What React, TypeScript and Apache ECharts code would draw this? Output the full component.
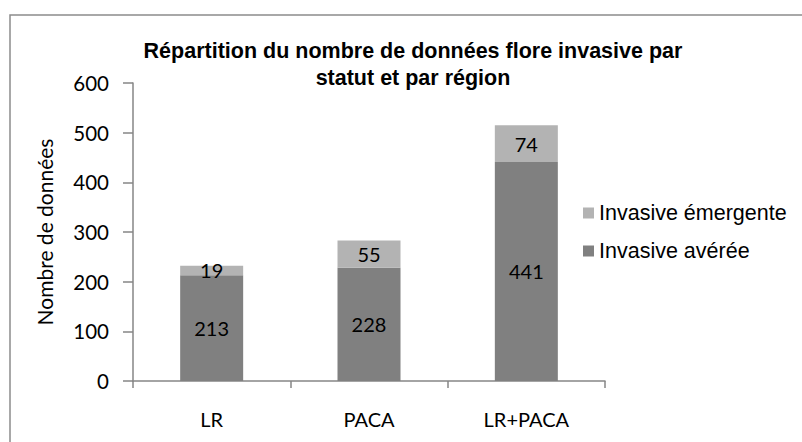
import React, { useEffect, useRef } from "react";
import * as echarts from "echarts";

const categories = ["LR", "PACA", "LR+PACA"];
const averee = [213, 228, 441];
const emergente = [19, 55, 74];
const seriesNames = ["Invasive avérée", "Invasive émergente"];
const titleText = "Répartition du nombre de données flore invasive par\nstatut et par région";
const yAxisName = "Nombre de données";

export default function App() {
  const ref = useRef<HTMLDivElement>(null);
  useEffect(() => {
    if (!ref.current) return;
    const chart = echarts.init(ref.current, null, { renderer: "svg" });
    const labelFont = "Lato, 'Open Sans', sans-serif";
    const arialFont = "'Liberation Sans', Arial, sans-serif";
    chart.setOption({
      animation: false,
      backgroundColor: "#ffffff",
      title: {
        text: titleText,
        left: 408,
        textAlign: "center",
        top: 32,
        textStyle: {
          fontFamily: arialFont,
          fontWeight: "bold",
          fontSize: 21.5,
          lineHeight: 27,
          color: "#000",
        },
      },
      graphic: [
        {
          type: "rect",
          shape: { x: 10, y: 15, width: 900, height: 600 },
          style: { fill: "none", stroke: "#8c8c8c", lineWidth: 1.5 },
          silent: true,
        },
      ],
      legend: {
        orient: "vertical",
        left: 583,
        top: 202,
        padding: 0,
        itemWidth: 11,
        itemHeight: 11,
        itemGap: 16,
        icon: "rect",
        data: [seriesNames[1], seriesNames[0]],
        textStyle: {
          fontFamily: arialFont,
          fontSize: 21.5,
          lineHeight: 22,
          color: "#000",
        },
      },
      grid: { left: 133, right: 197, top: 83, bottom: 61, containLabel: false },
      xAxis: {
        type: "category",
        data: categories,
        axisLine: { lineStyle: { color: "#868686", width: 1.5 } },
        axisTick: { show: true, length: 7, alignWithLabel: false, lineStyle: { color: "#868686", width: 1.5 } },
        axisLabel: { margin: 28, fontFamily: labelFont, fontSize: 20, color: "#000" },
      },
      yAxis: {
        type: "value",
        min: 0,
        max: 600,
        interval: 100,
        name: yAxisName,
        nameLocation: "middle",
        nameGap: 78,
        nameTextStyle: { fontFamily: labelFont, fontSize: 21, color: "#000" },
        axisLine: { show: true, lineStyle: { color: "#868686", width: 1.5 } },
        axisTick: { show: true, length: 10, lineStyle: { color: "#868686", width: 1.5 } },
        splitLine: { show: false },
        axisLabel: { margin: 24, fontFamily: labelFont, fontSize: 20.5, color: "#000" },
      },
      series: [
        {
          name: seriesNames[0],
          type: "bar",
          stack: "total",
          barWidth: 63,
          data: averee,
          itemStyle: { color: "#808080" },
          label: { show: true, position: "inside", fontFamily: labelFont, fontSize: 20, color: "#000" },
        },
        {
          name: seriesNames[1],
          type: "bar",
          stack: "total",
          barWidth: 63,
          data: emergente,
          itemStyle: { color: "#b3b3b3" },
          label: { show: true, position: "inside", fontFamily: labelFont, fontSize: 20, color: "#000" },
        },
      ],
    });
    return () => chart.dispose();
  }, []);
  return (
    <div
      ref={ref}
      style={{ position: "fixed", left: 0, top: 0, width: 802, height: 442, background: "#fff" }}
    />
  );
}
